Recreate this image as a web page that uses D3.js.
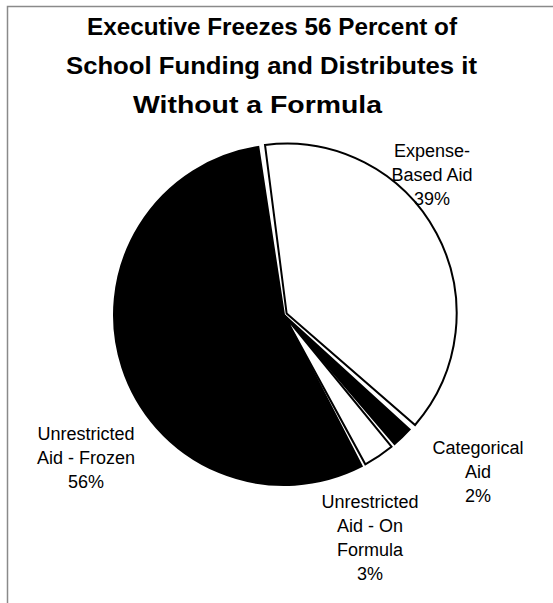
<!DOCTYPE html>
<html>
<head>
<meta charset="utf-8">
<script src="https://cdn.jsdelivr.net/npm/d3@7"></script>
<style>
  body { margin: 0; background: #fff; }
  text { font-family: "Liberation Sans", Arial, sans-serif; fill: #000; }
</style>
</head>
<body>
<script>
// chart data
const categories = ["Expense-Based Aid", "Categorical Aid", "Unrestricted Aid - On Formula", "Unrestricted Aid - Frozen"];
const shares = [39, 2, 3, 56];
const sliceFills = ["#fff", "#000", "#fff", "#000"];
const labelLines = [
  ["Expense-", "Based Aid", "39%"],
  ["Categorical", "Aid", "2%"],
  ["Unrestricted", "Aid - On", "Formula", "3%"],
  ["Unrestricted", "Aid - Frozen", "56%"]
];
const titleLines = [
  "Executive Freezes 56 Percent of",
  "School Funding and Distributes it",
  "Without a Formula"
];

const width = 553, height = 603;
const cx = 284, cy = 315, radius = 170;

const svg = d3.select("body").append("svg")
    .attr("width", width)
    .attr("height", height);

// frame (only top and left edges show in the scan)
svg.append("path")
    .attr("d", `M7.5,${height} V6.5 H${width}`)
    .attr("fill", "none")
    .attr("stroke", "#8a8a8a")
    .attr("stroke-width", 1.5);

// title - the scan has the lower lines set a little looser
const titleSpan = [[87, 457], [66, 477], [133, 382]];
svg.append("g")
  .selectAll("text")
  .data(titleLines)
  .enter().append("text")
    .attr("x", (d, i) => titleSpan[i][0])
    .attr("y", (d, i) => 35 + i * 39)
    .attr("textLength", (d, i) => titleSpan[i][1] - titleSpan[i][0])
    .attr("lengthAdjust", "spacingAndGlyphs")
    .style("font-size", "24.5px")
    .style("font-weight", "bold")
    .text(d => d);

// pie
const startAngle = -8 * Math.PI / 180;
const pie = d3.pie()
    .sort(null)
    .startAngle(startAngle)
    .endAngle(startAngle + 2 * Math.PI)
    .padAngle(0.024);

const arc = d3.arc().innerRadius(0).outerRadius(radius);
const arcs = pie(shares);

const g = svg.append("g")
    .attr("transform", `translate(${cx}, ${cy})`);

g.selectAll("path")
  .data(arcs)
  .enter().append("path")
    .attr("transform", (d, i) => {
      // expense slice is pulled out a touch
      if (i !== 0) return null;
      const mid = (d.startAngle + d.endAngle) / 2;
      return `translate(${3 * Math.sin(mid)}, ${-3 * Math.cos(mid)})`;
    })
    .attr("d", arc)
    .attr("fill", (d, i) => sliceFills[i])
    .attr("stroke", "#000")
    .attr("stroke-width", 2)
    .attr("stroke-linejoin", "miter");

// slice labels
const labelPos = [
  { x: 432, y: 157 },
  { x: 478, y: 454 },
  { x: 370, y: 508 },
  { x: 86, y: 440 }
];
const lineStep = 24;

svg.append("g")
  .selectAll("text")
  .data(labelLines)
  .enter().append("text")
    .attr("text-anchor", "middle")
    .style("font-size", "18px")
    .each(function(lines, i) {
      d3.select(this).selectAll("tspan")
        .data(lines)
        .enter().append("tspan")
          .attr("x", labelPos[i].x)
          .attr("y", (d, j) => labelPos[i].y + j * lineStep)
          .text(d => d);
    });
</script>
</body>
</html>
